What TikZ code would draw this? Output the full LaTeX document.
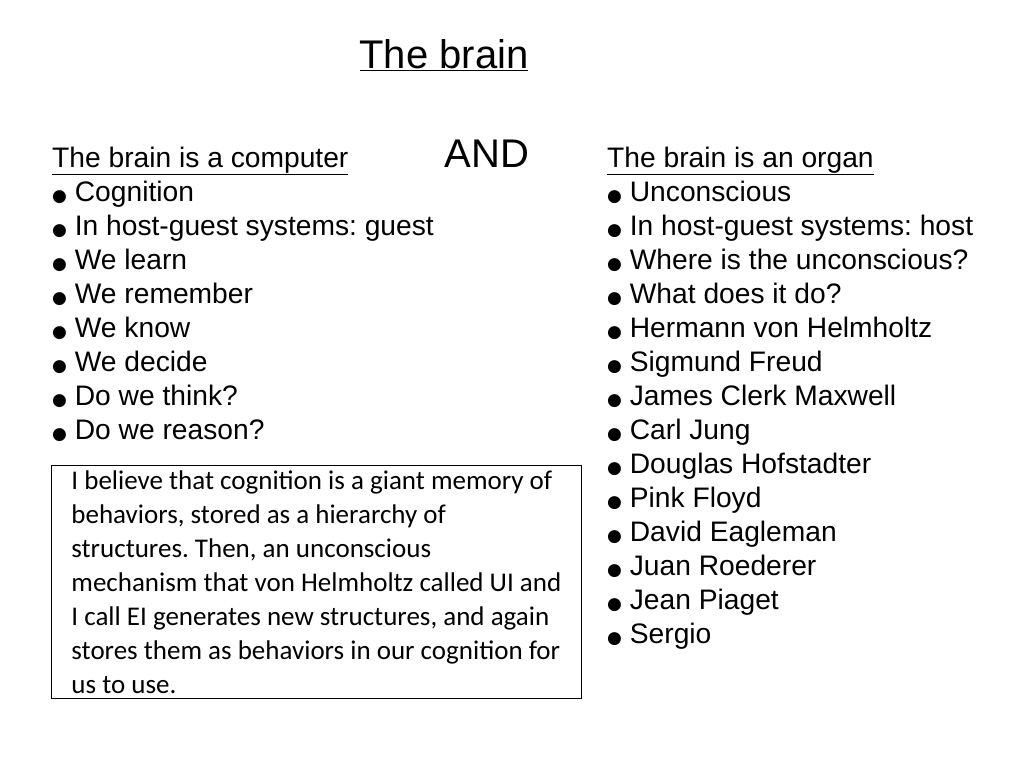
\documentclass[tikz,border=0pt]{standalone}
\usepackage{fontspec}
\setmainfont{Liberation Sans}
\newfontfamily\boxfont{Carlito}
\newfontfamily\symfont{DejaVu Sans}
\usetikzlibrary{positioning}
\frenchspacing
\newcommand{\bul}{{\symfont\fontsize{17}{20}\selectfont ●}\ }
\begin{document}
\begin{tikzpicture}[x=1pt,y=1pt,
    item/.style={anchor=base west, inner sep=0pt, font=\fontsize{28.2}{32}\selectfont},
    heading/.style={anchor=base, inner sep=0pt, font=\fontsize{40}{44}\selectfont},
    note/.style={draw, thick, anchor=north west, minimum width=530pt, inner xsep=5pt, inner ysep=5pt, align=left, font=\boxfont\fontsize{27}{34}\selectfont}
  ]
  \useasboundingbox (0,0) rectangle (1024,-768);
  \node[heading] (title) at (444,-68) {\underline{The brain}};
  \node[heading] (and) at (487,-167) {AND};
  % left column
  \node[item] (lhead) at (52,-167) {\underline{The brain is a computer}};
  \foreach \t [count=\i] in {Cognition, In host-guest systems: guest, We learn, We remember, We know, We decide, Do we think?, Do we reason?}
    \node[item] (l\i) at (52,-167-34*\i) {\bul\t};
  % right column
  \node[item] (rhead) at (607,-167) {\underline{The brain is an organ}};
  \foreach \t [count=\i] in {Unconscious, In host-guest systems: host, Where is the unconscious?, What does it do?, Hermann von Helmholtz, Sigmund Freud, James Clerk Maxwell, Carl Jung, Douglas Hofstadter, Pink Floyd, David Eagleman, Juan Roederer, Jean Piaget, Sergio}
    \node[item] (r\i) at (607,-167-34*\i) {\bul\t};
  \node[note] (belief) at (51,-465) {I believe that cognition is a giant memory of\\ behaviors, stored as a hierarchy of\\ structures. Then, an unconscious\\ mechanism that von Helmholtz called UI and\\ I call EI generates new structures, and again\\ stores them as behaviors in our cognition for\\ us to use.};
\end{tikzpicture}
\end{document}
